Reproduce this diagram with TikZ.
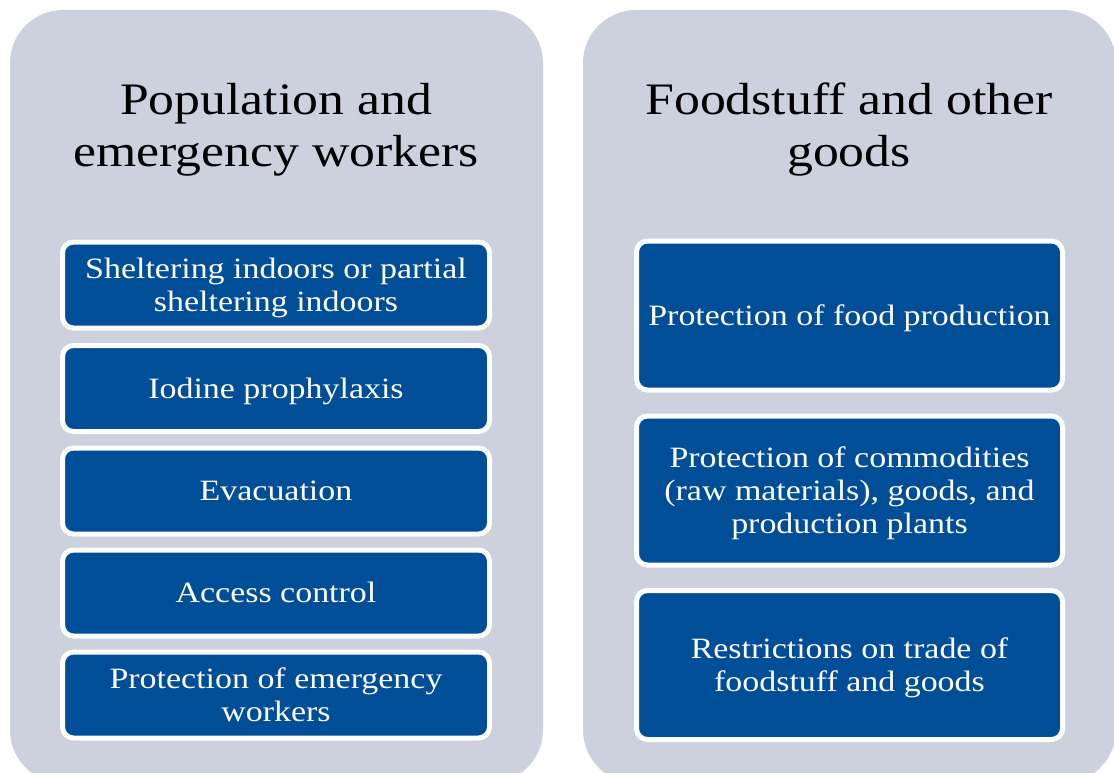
\documentclass[tikz,border=0pt]{standalone}
\usepackage{fontspec}
\setmainfont{Liberation Serif}[FakeStretch=1.15]
\definecolor{panelgray}{RGB}{204,209,221}
\definecolor{boxblue}{RGB}{0,77,152}
\newcommand\boxstrut{\rule[-6.5pt]{0pt}{32.5pt}}
\newcommand\titlestrut{\rule[-10pt]{0pt}{49pt}}
\begin{document}
\begin{tikzpicture}[x=1pt,y=-1pt,
  panel/.style={fill=panelgray, rounded corners=53pt},
  title/.style={align=center, font=\fontsize{45}{52}\selectfont, text=black, inner sep=0pt},
  lbox/.style={draw=white, line width=5pt, fill=boxblue, rounded corners=11pt,
    minimum width=427pt, minimum height=86pt, align=center, text=white,
    font=\fontsize{29.5}{33}\selectfont, inner sep=0pt},
  rbox/.style={lbox, minimum width=426pt, minimum height=149pt}]
\useasboundingbox (0,0) rectangle (1114,773);
\fill[panel] (10,10) rectangle (543,783);
\fill[panel] (583,10) rectangle (1116,783);
\node[title] (lt) at (276,126) {\titlestrut Population and\\\titlestrut emergency workers};
\node[title] (rt) at (849,126) {\titlestrut Foodstuff and other\\\titlestrut goods};
\node[lbox] (l1) at (276,285) {\boxstrut Sheltering indoors or partial\\\boxstrut sheltering indoors};
\node[lbox] (l2) at (276,388.5) {\boxstrut Iodine prophylaxis};
\node[lbox] (l3) at (276,491) {\boxstrut Evacuation};
\node[lbox] (l4) at (276,593) {\boxstrut Access control};
\node[lbox] (l5) at (276,695) {\boxstrut Protection of emergency\\\boxstrut workers};
\node[rbox] (r1) at (849.5,315.5) {\boxstrut Protection of food production};
\node[rbox] (r2) at (849.5,490.5) {\boxstrut Protection of commodities\\\boxstrut (raw materials), goods, and\\\boxstrut production plants};
\node[rbox] (r3) at (849.5,665) {\boxstrut Restrictions on trade of\\\boxstrut foodstuff and goods};
\end{tikzpicture}
\end{document}
